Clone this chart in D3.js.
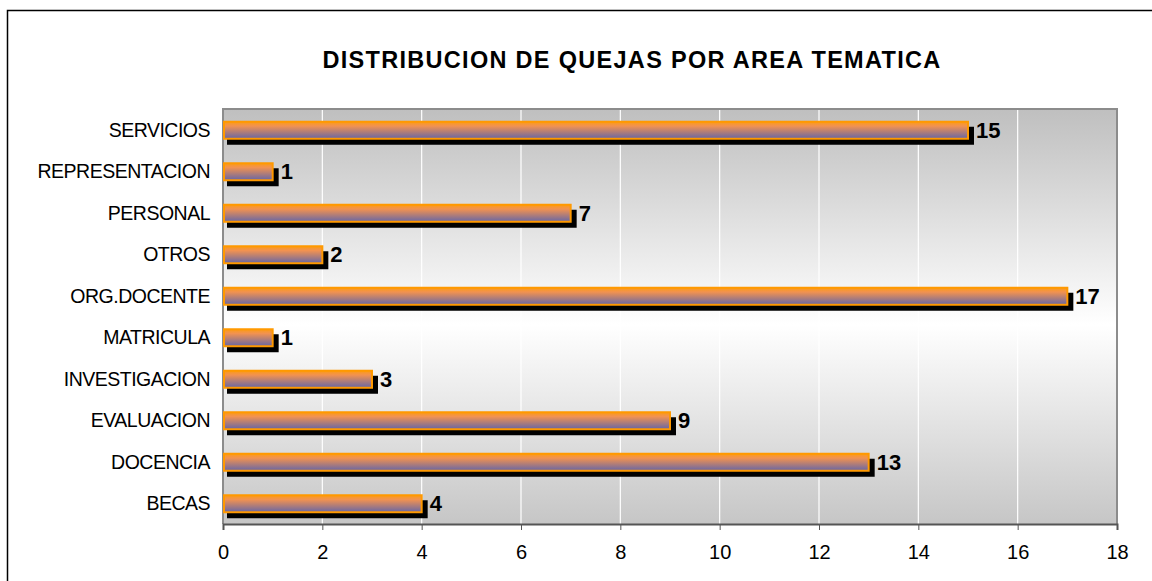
<!DOCTYPE html>
<html><head><meta charset="utf-8">
<script src="https://cdn.jsdelivr.net/npm/d3@7/dist/d3.min.js"></script>
<style>body{margin:0;background:#fff}svg{display:block}</style>
</head><body>
<script>
const categories = ["BECAS","DOCENCIA","EVALUACION","INVESTIGACION","MATRICULA","ORG.DOCENTE","OTROS","PERSONAL","REPRESENTACION","SERVICIOS"];
const values = [4,13,9,3,1,17,2,7,1,15];
const tickValues = [0,2,4,6,8,10,12,14,16,18];
const title = "DISTRIBUCION DE QUEJAS POR AREA TEMATICA";

const W=1152,H=581;
const FONT="Liberation Sans, Arial, sans-serif";
const svg=d3.select("body").append("svg").attr("width",W).attr("height",H);
const defs=svg.append("defs");
const bg=defs.append("linearGradient").attr("id","bg").attr("x1",0).attr("y1",0).attr("x2",0).attr("y2",1);
bg.append("stop").attr("offset","0").attr("stop-color","#bfbfbf");
bg.append("stop").attr("offset","0.52").attr("stop-color","#ffffff");
bg.append("stop").attr("offset","1").attr("stop-color","#c6c6c6");
const bf=defs.append("linearGradient").attr("id","bf").attr("x1",0).attr("y1",0).attr("x2",0).attr("y2",1);
bf.append("stop").attr("offset","0").attr("stop-color","#fc9c14");
bf.append("stop").attr("offset","0.25").attr("stop-color","#f29250");
bf.append("stop").attr("offset","1").attr("stop-color","#6666a6");

// outer frame
svg.append("rect").attr("x",7.5).attr("y",10.5).attr("width",W).attr("height",H).attr("fill","#fff").attr("stroke","#000").attr("stroke-width",1.5);

const L=223,R=1117,T=109,B=524;
const x=d3.scaleLinear().domain([0,18]).range([L,R]);
const y=d3.scaleBand().domain(categories.slice().reverse()).range([T,B]);

svg.append("rect").attr("x",L).attr("y",T).attr("width",R-L).attr("height",B-T).attr("fill","url(#bg)");
// gridlines
svg.append("g").selectAll("line").data(tickValues.slice(1,-1)).join("line")
  .attr("x1",d=>x(d)).attr("x2",d=>x(d)).attr("y1",T).attr("y2",B)
  .attr("stroke","#ffffff").attr("stroke-width",1.2);
// plot border
svg.append("path").attr("d",`M${L},${B}V${T}H${R}V${B}`).attr("fill","none").attr("stroke","#8c8c8c").attr("stroke-width",2);

// title
svg.append("text").attr("x",632).attr("y",68).attr("text-anchor","middle")
  .attr("font-family",FONT).attr("font-weight","bold").attr("font-size",23.5)
  .attr("letter-spacing",1.3).text(title);

const g=svg.append("g");
const data=categories.map((c,i)=>({c,v:values[i]}));
const bh=17;
// shadows
g.selectAll("rect.sh").data(data).join("rect").attr("class","sh")
  .attr("x",L+4).attr("y",d=>y(d.c)+y.bandwidth()/2-8+5)
  .attr("width",d=>x(d.v)-L+2).attr("height",bh+1).attr("fill","#000");
// bars
g.selectAll("rect.bar").data(data).join("rect").attr("class","bar")
  .attr("x",L+1).attr("y",d=>y(d.c)+y.bandwidth()/2-8)
  .attr("width",d=>x(d.v)-L-1).attr("height",bh)
  .attr("fill","url(#bf)").attr("stroke","#ff9900").attr("stroke-width",2);
// value labels
g.selectAll("text.val").data(data).join("text").attr("class","val")
  .attr("x",d=>x(d.v)+8).attr("y",d=>y(d.c)+y.bandwidth()/2)
  .attr("dy","0.36em").attr("font-family",FONT)
  .attr("font-weight","bold").attr("font-size",22).text(d=>d.v);

// y axis labels
g.selectAll("text.cat").data(categories).join("text").attr("class","cat")
  .attr("x",210).attr("y",d=>y(d)+y.bandwidth()/2).attr("dy","0.36em")
  .attr("text-anchor","end").attr("font-family",FONT)
  .attr("font-size",19.5).attr("letter-spacing",-0.5).text(d=>d);

// x axis
const xa=svg.append("g").attr("transform",`translate(0,${B})`)
  .call(d3.axisBottom(x).tickValues(tickValues).tickSize(6).tickPadding(15).tickFormat(d3.format("d")));
xa.select(".domain").attr("stroke","#555").attr("stroke-width",2);
xa.selectAll(".tick line").attr("stroke","#555");
xa.selectAll("text").attr("font-family",FONT).attr("font-size",20).attr("fill","#000");
</script>
</body></html>
